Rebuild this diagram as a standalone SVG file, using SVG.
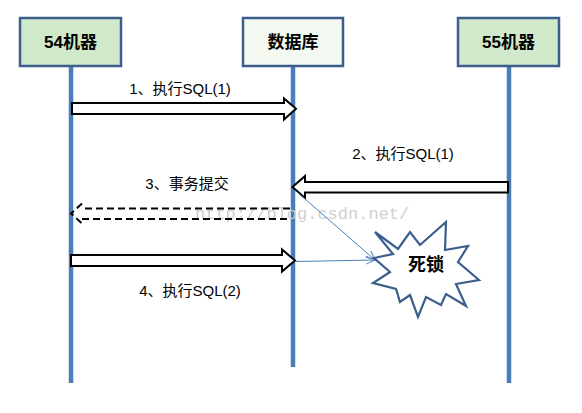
<svg xmlns="http://www.w3.org/2000/svg" width="582" height="413" viewBox="0 0 582 413">
<defs>
<style>
.box{stroke:#3B5E8C;stroke-width:2.5}
.m{fill:#D0E9CB}
.db{fill:#F4F9F2}
.life{stroke:#4A7EBB;stroke-width:4.5}
.nt{font-family:"Liberation Sans","Noto Sans CJK SC",sans-serif;font-size:17px;font-weight:bold;fill:#000;text-anchor:middle}
.lbl{font-family:"Liberation Sans","Noto Sans CJK SC",sans-serif;font-size:15px;fill:#000;text-anchor:middle}
.blk{fill:#fff;stroke:#000;stroke-width:2;stroke-linejoin:miter}
.dash{fill:none;stroke:#000;stroke-width:2;stroke-dasharray:7 4}
.thin{stroke:#4A7EBB;stroke-width:1;fill:none}
.wm{font-family:"Liberation Mono",monospace;font-size:17px;fill:#D0D0D0}
</style>
<marker id="open" viewBox="0 0 10 10" refX="9" refY="5" markerWidth="10" markerHeight="10" markerUnits="userSpaceOnUse" orient="auto">
<path d="M0,1 L9,5 L0,9" fill="none" stroke="#4A7EBB" stroke-width="1"/>
</marker>
</defs>
<rect width="582" height="413" fill="#fff"/>

<g id="lifelines">
<line class="life" x1="71" y1="66" x2="71" y2="383"/>
<line class="life" x1="293" y1="66" x2="293" y2="367"/>
<line class="life" x1="509" y1="66" x2="509" y2="383"/>
</g>

<g id="node-54">
<rect class="box m" x="20" y="18" width="101" height="48"/>
<text class="nt" x="70.5" y="48">54机器</text>
</g>
<g id="node-db">
<rect class="box db" x="243" y="18" width="100" height="48"/>
<text class="nt" x="293" y="48">数据库</text>
</g>
<g id="node-55">
<rect class="box m" x="458" y="18" width="101" height="48"/>
<text class="nt" x="508.5" y="48">55机器</text>
</g>

<text class="wm" x="195" y="219">http://blog.csdn.net/</text>

<g id="connectors">
<path class="blk" d="M72,103 L284,103 L284,98.5 L296,108.7 L284,119.5 L284,114 L72,114 Z"/>
<path class="blk" d="M508,182 L305,182 L305,176 L292.5,187 L305,198 L305,192.5 L508,192.5 Z"/>
<path class="dash" d="M290,208.5 L82,208.5 M82,203.5 L71,213.5 L82,223.5 M82,219 L290,219"/>
<path class="blk" d="M71,255 L282,255 L282,249.5 L295,260.5 L282,271.5 L282,266 L71,266 Z"/>
<line class="thin" x1="297" y1="192" x2="375" y2="260" marker-end="url(#open)"/>
<line class="thin" x1="295" y1="261.5" x2="375" y2="260" marker-end="url(#open)"/>
</g>

<g id="labels">
<text class="lbl" x="180" y="93.5">1、执行SQL(1)</text>
<text class="lbl" x="403" y="158.5">2、执行SQL(1)</text>
<text class="lbl" x="187" y="188.5">3、事务提交</text>
<text class="lbl" x="190" y="295.5">4、执行SQL(2)</text>
</g>

<g id="node-deadlock">
<path d="M375,232 L398,249 L410,232 L420,245 L446,222 L445,250 L468,246 L458,262 L479,280 L456,284 L466,306 L446,294 L441,305 L426,297 L418,317 L410,295 L400,302 L396,289 L373,283 L390,272 L374,258 L393,254 Z" fill="#fff" stroke="#3B5E8C" stroke-width="2.2" stroke-linejoin="miter"/>
<text class="nt" x="426" y="271" style="font-size:18px">死锁</text>
</g>
</svg>
